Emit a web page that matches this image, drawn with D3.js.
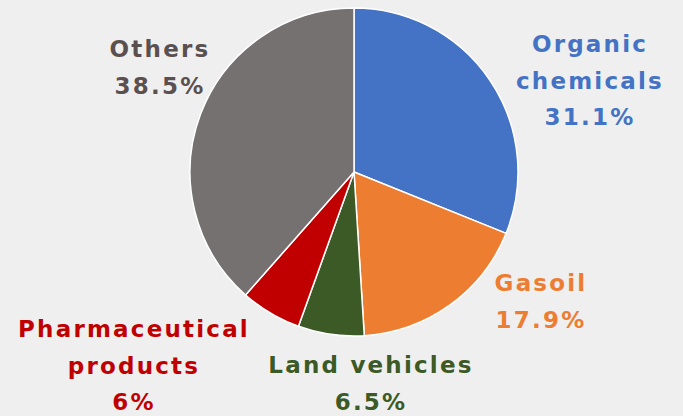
<!DOCTYPE html>
<html>
<head>
<meta charset="utf-8">
<script src="https://cdn.jsdelivr.net/npm/d3@7"></script>
<style>
  html, body { margin: 0; padding: 0; background: #efefef; }
  text { font-family: "DejaVu Sans", sans-serif; font-weight: bold; }
</style>
</head>
<body>
<div id="chart"></div>
<script>
// slices, clockwise from 12 o'clock
var categories = ["Organic chemicals", "Gasoil", "Land vehicles", "Pharmaceutical products", "Others"];
var shares = [31.1, 17.9, 6.5, 6, 38.5];
var shareLabels = ["31.1%", "17.9%", "6.5%", "6%", "38.5%"];
var colors = ["#4472c4", "#ed7d31", "#3b5a26", "#c00000", "#767171"];
var labelColors = ["#4472c4", "#ed7d31", "#3b5a26", "#c00000", "#5b5050"];
// label lines as split in the picture
var labelLines = [["Organic", "chemicals"], ["Gasoil"], ["Land vehicles"], ["Pharmaceutical", "products"], ["Others"]];
var labelPos = [[590, 52], [541, 291], [371, 373], [134, 337], [160, 57]];

var width = 683, height = 416;
var cx = 354, cy = 172, radius = 164;

var svg = d3.select("#chart")
            .append("svg")
            .attr("width", width)
            .attr("height", height);

svg.append("rect")
   .attr("width", width)
   .attr("height", height)
   .attr("fill", "#efefef");

var pie = d3.pie().sort(null).value(function(d) { return d; });
var arc = d3.arc().innerRadius(0).outerRadius(radius);

var g = svg.append("g")
           .attr("transform", "translate(" + cx + " " + cy + ")");

g.selectAll(".slice")
  .data(pie(shares))
  .enter()
  .append("path")
    .classed("slice", true)
    .attr("d", arc)
    .attr("fill", function(d, i) { return colors[i]; })
    .attr("stroke", "#ffffff")
    .attr("stroke-width", 1.5)
    .attr("stroke-linejoin", "round");

var lineH = 36.5;
var labels = svg.selectAll(".label")
  .data(categories)
  .enter()
  .append("text")
    .classed("label", true)
    .attr("text-anchor", "middle")
    .style("font-size", "23px")
    .style("letter-spacing", "2.2px")
    .style("fill", function(d, i) { return labelColors[i]; });

labels.each(function(d, i) {
  var t = d3.select(this);
  var lines = labelLines[i].concat([shareLabels[i]]);
  lines.forEach(function(line, j) {
    t.append("tspan")
     .attr("x", labelPos[i][0])
     .attr("y", labelPos[i][1] + j * lineH)
     .text(line);
  });
});
</script>
</body>
</html>
